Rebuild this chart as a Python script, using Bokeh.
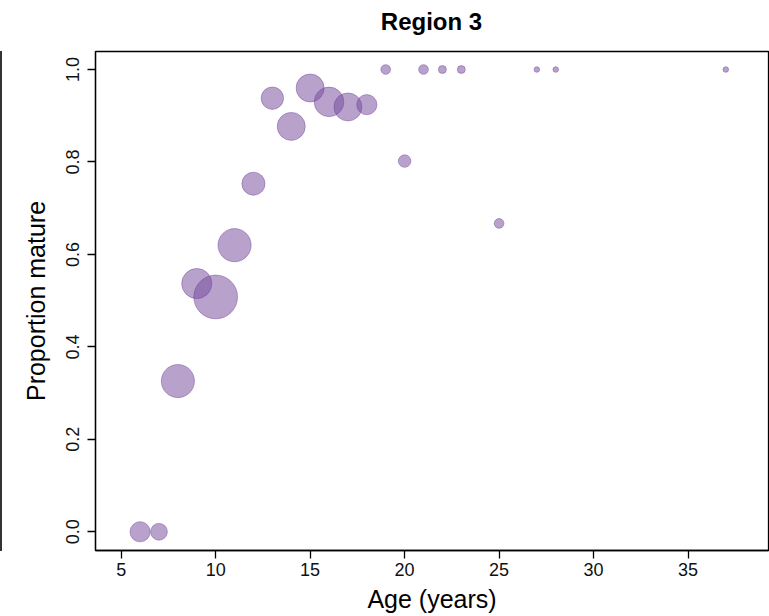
from bokeh.plotting import figure
from bokeh.models import ColumnDataSource, Div, FixedTicker
from bokeh.layouts import row, column
from bokeh.embed import file_html
from bokeh.resources import INLINE
import numpy as np

# Data
age = [6, 7, 8, 9, 10, 11, 12, 13, 14, 15, 16, 17, 18, 19, 20, 21, 22, 23, 25, 27, 28, 37]
prop_mature = [0.0, 0.0, 0.326, 0.537, 0.508, 0.62, 0.753, 0.938, 0.877, 0.960, 0.930, 0.919,
               0.924, 1.0, 0.802, 1.0, 1.0, 1.0, 0.667, 1.0, 1.0, 1.0]
sample_n = [13, 9, 35, 29, 61, 35, 17, 16, 25, 25, 28, 25, 13, 3, 5, 3, 2, 2, 3, 1, 1, 1]

x_ticks = [5, 10, 15, 20, 25, 30, 35]
y_ticks = [0.0, 0.2, 0.4, 0.6, 0.8, 1.0]
y_tick_labels = {0.0: "0.0", 0.2: "0.2", 0.4: "0.4", 0.6: "0.6", 0.8: "0.8", 1.0: "1.0"}
title_text = "Region 3"

src = ColumnDataSource(dict(
    x=age, y=prop_mature,
    d=[2 * 2.8 * np.sqrt(n) for n in sample_n],
))

FONT = "Liberation Sans"
p = figure(width=767, height=580, output_backend="svg", toolbar_location=None,
           x_range=(3.64, 39.26), y_range=(-0.0405, 1.039),
           min_border_left=93, min_border_right=1, min_border_top=15, min_border_bottom=66)

p.scatter("x", "y", size="d", source=src, marker="circle",
          fill_color="#714599", fill_alpha=0.5,
          line_color="#714599", line_alpha=0.45, line_width=1)

p.grid.visible = False
p.outline_line_color = "black"
p.outline_line_width = 1.3
p.background_fill_color = "white"
p.border_fill_color = "white"

for ax in (p.xaxis[0], p.yaxis[0]):
    ax.axis_line_color = "black"
    ax.axis_line_width = 1.3
    ax.major_tick_line_color = "black"
    ax.major_tick_line_width = 1.3
    ax.major_tick_out = 8
    ax.major_tick_in = 0
    ax.minor_tick_line_color = None
    ax.major_label_text_font = FONT
    ax.major_label_text_font_size = "18px"
    ax.major_label_text_color = "#111111"
    ax.axis_label_text_font = FONT
    ax.axis_label_text_font_size = "25px"
    ax.axis_label_text_font_style = "normal"
    ax.axis_label_text_color = "black"

p.xaxis[0].ticker = FixedTicker(ticks=x_ticks)
p.yaxis[0].ticker = FixedTicker(ticks=y_ticks)
p.yaxis[0].major_label_overrides = y_tick_labels
p.yaxis[0].major_label_orientation = "vertical"
p.xaxis[0].major_label_standoff = 4
p.yaxis[0].major_label_standoff = 8
p.xaxis.axis_label = "Age (years)"
p.yaxis.axis_label = "Proportion mature"
p.xaxis[0].axis_label_standoff = 6
p.yaxis[0].axis_label_standoff = 14

title_div = Div(text=title_text, width=673, height=28, margin=(8, 1, 0, 93),
                styles={"font-family": FONT, "font-size": "24px", "font-weight": "bold",
                        "text-align": "center", "color": "black", "line-height": "28px"})

edge = Div(text="", width=2, height=500,
           styles={"background-color": "#333333"}, margin=(51, 0, 0, 0))

layout = row(edge, column(title_div, p, spacing=0), spacing=0)
open("out.html", "w").write(file_html(layout, INLINE))
